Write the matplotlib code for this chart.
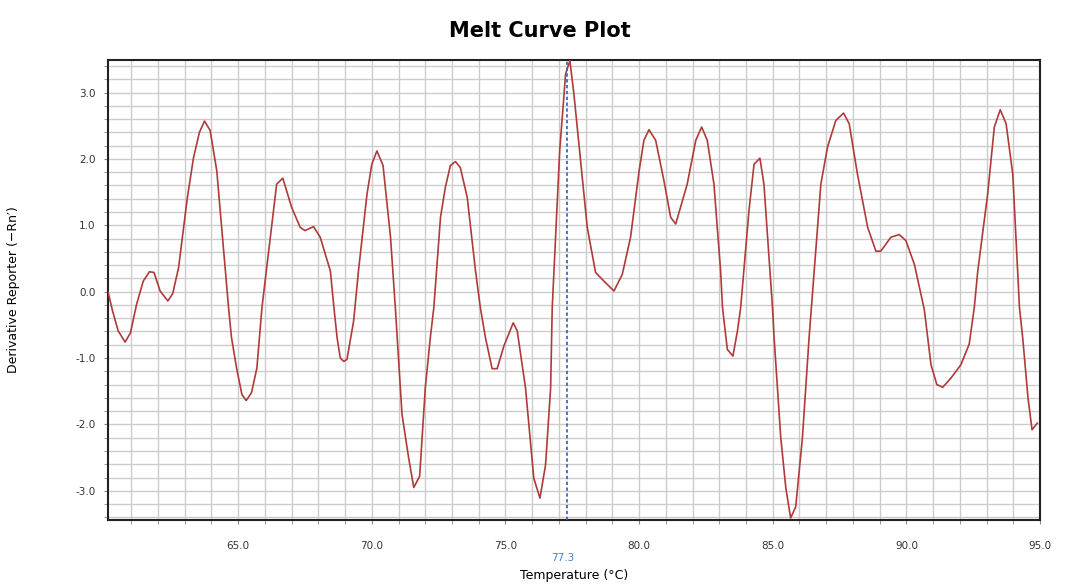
import matplotlib
matplotlib.use("Agg")
import matplotlib.pyplot as plt
from matplotlib.ticker import MultipleLocator, FormatStrFormatter

# melt curve data (temperature in C, derivative reporter)
temps = [60.13, 60.30, 60.51, 60.77, 60.97, 61.20, 61.45, 61.68, 61.85, 62.08,
         62.37, 62.55, 62.77, 63.10, 63.33, 63.55, 63.74, 63.95, 64.20, 64.64,
         64.75, 64.94, 65.14, 65.30, 65.50, 65.70, 65.89, 66.19, 66.44, 66.67,
         67.00, 67.32, 67.50, 67.82, 68.07, 68.45, 68.57, 68.70, 68.82, 68.95,
         69.07, 69.32, 69.50, 69.82, 70.00, 70.19, 70.42, 70.70, 70.88, 71.13,
         71.38, 71.57, 71.79, 72.00, 72.19, 72.32, 72.57, 72.75, 72.94, 73.13,
         73.31, 73.57, 73.88, 74.06, 74.25, 74.50, 74.69, 74.94, 75.29, 75.44,
         75.75, 76.06, 76.29, 76.50, 76.69, 76.75, 77.03, 77.25, 77.41, 77.56,
         77.81, 78.06, 78.37, 78.68, 79.06, 79.37, 79.68, 80.00, 80.18, 80.37,
         80.62, 80.93, 81.18, 81.37, 81.55, 81.80, 82.12, 82.34, 82.55, 82.80,
         83.05, 83.12, 83.30, 83.51, 83.68, 83.80, 84.11, 84.30, 84.52, 84.67,
         84.99, 85.05, 85.30, 85.49, 85.67, 85.86, 86.11, 86.36, 86.55, 86.80,
         87.05, 87.36, 87.65, 87.86, 88.17, 88.55, 88.86, 89.04, 89.42, 89.73,
         89.98, 90.30, 90.67, 90.92, 91.14, 91.36, 91.67, 92.04, 92.35, 92.54,
         92.67, 93.04, 93.29, 93.51, 93.73, 93.98, 94.23, 94.35, 94.55, 94.70,
         94.90]
deriv = [0.00, -0.29, -0.59, -0.76, -0.62, -0.19, 0.16, 0.30, 0.29, 0.01,
         -0.14, -0.03, 0.36, 1.42, 2.02, 2.40, 2.57, 2.43, 1.82, -0.24,
         -0.69, -1.15, -1.55, -1.64, -1.52, -1.15, -0.24, 0.77, 1.62, 1.71,
         1.27, 0.97, 0.92, 0.98, 0.82, 0.31, -0.19, -0.69, -1.00, -1.05,
         -1.02, -0.44, 0.31, 1.47, 1.92, 2.12, 1.90, 0.82, -0.24, -1.85,
         -2.51, -2.95, -2.78, -1.45, -0.69, -0.24, 1.12, 1.57, 1.90, 1.96,
         1.87, 1.42, 0.31, -0.24, -0.69, -1.16, -1.16, -0.82, -0.47, -0.59,
         -1.45, -2.81, -3.11, -2.61, -1.45, -0.24, 2.13, 3.28, 3.48, 2.98,
         1.97, 0.97, 0.29, 0.16, 0.01, 0.26, 0.82, 1.82, 2.28, 2.44,
         2.28, 1.67, 1.12, 1.02, 1.27, 1.62, 2.28, 2.48, 2.28, 1.62,
         0.31, -0.24, -0.87, -0.97, -0.59, -0.24, 1.22, 1.92, 2.01, 1.62,
         -0.24, -0.69, -2.20, -2.96, -3.41, -3.24, -2.20, -0.69, 0.31, 1.62,
         2.18, 2.58, 2.69, 2.53, 1.77, 0.97, 0.61, 0.61, 0.82, 0.86,
         0.77, 0.41, -0.27, -1.10, -1.40, -1.44, -1.30, -1.10, -0.79, -0.24,
         0.31, 1.47, 2.48, 2.74, 2.53, 1.77, -0.24, -0.69, -1.60, -2.08,
         -1.98]
tm = 77.3

fig = plt.figure(figsize=(10.8, 5.87), dpi=100)
ax = fig.add_axes([0.1, 0.1141, 0.863, 0.7837])

ax.plot(temps, deriv, color='#b03a3a', lw=1.2, zorder=3)
ax.axvline(tm, color='#2f5fb0', lw=1.2, ls=(0, (2, 1.5)), zorder=4)

ax.set_xlim(60.13, 95.0)
ax.set_ylim(-3.44, 3.49)

ax.xaxis.set_major_locator(MultipleLocator(5))
ax.xaxis.set_minor_locator(MultipleLocator(1))
ax.yaxis.set_major_locator(MultipleLocator(1))
ax.yaxis.set_minor_locator(MultipleLocator(0.2))
ax.xaxis.set_major_formatter(FormatStrFormatter('%.1f'))
ax.yaxis.set_major_formatter(FormatStrFormatter('%.1f'))
ax.grid(True, which='both', color='#cccccc', lw=1.0, zorder=0)
ax.set_axisbelow(True)
ax.tick_params(which='both', direction='out', length=3, color='#888888',
               labelsize=7.5, labelcolor='#333333', pad=6)
ax.tick_params(axis='x', pad=12)

for s in ax.spines.values():
    s.set_linewidth(1.5)
    s.set_color('#222222')

fig.suptitle('Melt Curve Plot', fontsize=15, fontweight='bold', y=0.965)
ax.set_xlabel('Temperature (°C)', fontsize=9, labelpad=13)
ax.set_ylabel('Derivative Reporter (\u2212Rn\u2032)', fontsize=9, labelpad=40)
ax.text(tm - 0.15, -3.93, '77.3', color='#4a7fc0', fontsize=7.5, ha='center',
        va='top')

plt.savefig('out.png', dpi=100)
